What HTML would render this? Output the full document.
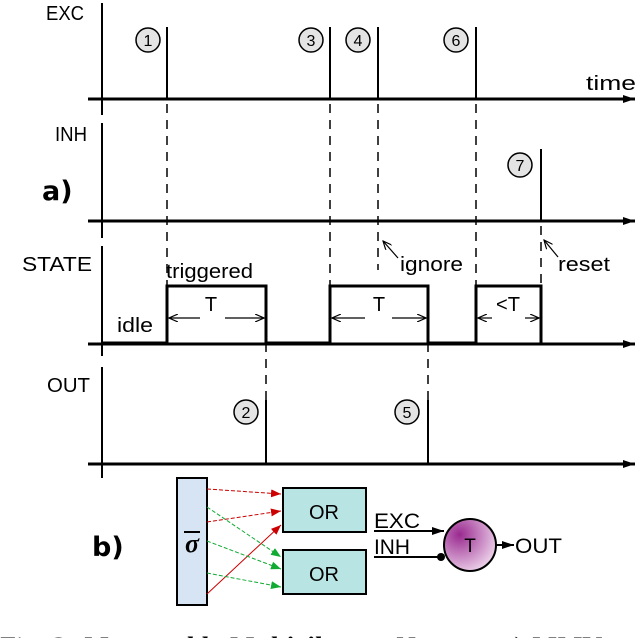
<!DOCTYPE html>
<html><head><style>body{margin:0;background:#fff}svg{display:block}</style></head><body>
<svg width="640" height="638" viewBox="0 0 640 638" font-family="Liberation Sans, sans-serif">
<defs>
<marker id="ah" markerWidth="12" markerHeight="8" refX="12" refY="4" orient="auto" markerUnits="userSpaceOnUse"><path d="M0,0L12,4L0,8z" fill="#000"/></marker>
<marker id="sa" markerWidth="10" markerHeight="8" refX="9" refY="4" orient="auto" markerUnits="userSpaceOnUse"><path d="M0,0L9,4L0,8" fill="none" stroke="#000" stroke-width="1.2"/></marker>
<marker id="ra" markerWidth="10" markerHeight="8" refX="10" refY="4" orient="auto" markerUnits="userSpaceOnUse"><path d="M0,0L10,4L0,8z" fill="#c00"/></marker>
<marker id="ga" markerWidth="10" markerHeight="8" refX="10" refY="4" orient="auto" markerUnits="userSpaceOnUse"><path d="M0,0L10,4L0,8z" fill="#1a3"/></marker>
<radialGradient id="tg" cx="0.3" cy="0.3" r="0.8"><stop offset="0" stop-color="#9a2a90"/><stop offset="1" stop-color="#f0d8ee"/></radialGradient>
</defs>
<g stroke="#000" stroke-width="2" fill="none">
<line x1="102" y1="3" x2="102" y2="115"/><line x1="102" y1="123" x2="102" y2="238"/>
<line x1="102" y1="246" x2="102" y2="356"/><line x1="102" y1="367" x2="102" y2="478"/>
<line x1="88" y1="99" x2="635" y2="99" marker-end="url(#ah)" stroke-width="3"/>
<line x1="88" y1="221" x2="635" y2="221" marker-end="url(#ah)" stroke-width="3"/>
<line x1="88" y1="344" x2="635" y2="344" marker-end="url(#ah)" stroke-width="3"/>
<line x1="88" y1="464" x2="635" y2="464" marker-end="url(#ah)" stroke-width="3"/>
<path d="M167,99V27M330,99V27M378,99V27M476,99V27M541,221V149M266,464V400M428,464V400"/>
<path d="M102,343H167V286H266V343H330V286H428V343H476V286H541V343" stroke-width="3"/>
</g>
<g stroke="#000" stroke-width="1.5" stroke-dasharray="9,7">
<path d="M167,104V343M330,104V286M378,104V270M476,104V286M541,226V286M266,343V400M428,343V400"/>
</g>
<g stroke="#000" stroke-width="1.2" fill="none">
<line x1="200" y1="318" x2="169" y2="318" marker-end="url(#sa)"/><line x1="225" y1="318" x2="264" y2="318" marker-end="url(#sa)"/>
<line x1="365" y1="318" x2="332" y2="318" marker-end="url(#sa)"/><line x1="392" y1="318" x2="426" y2="318" marker-end="url(#sa)"/>
<line x1="492" y1="318" x2="478" y2="318" marker-end="url(#sa)"/><line x1="525" y1="318" x2="539" y2="318" marker-end="url(#sa)"/>
<line x1="398" y1="258" x2="383" y2="241" marker-end="url(#sa)"/>
<line x1="558" y1="257" x2="544" y2="240" marker-end="url(#sa)"/>
</g>
<g fill="#e4e4e4" stroke="#000" stroke-width="1.5">
<circle cx="148" cy="40" r="12"/><circle cx="311" cy="40" r="12"/><circle cx="358" cy="40" r="12"/><circle cx="456" cy="40" r="12"/><circle cx="520" cy="165" r="12"/><circle cx="246" cy="412" r="12"/><circle cx="407" cy="412" r="12"/>
</g>
<g font-size="16" text-anchor="middle">
<text x="148" y="46">1</text><text x="311" y="46">3</text><text x="358" y="46">4</text><text x="456" y="46">6</text><text x="520" y="171">7</text><text x="246" y="418">2</text><text x="407" y="418">5</text>
</g>
<g font-size="20">
<text x="46" y="20" textLength="38" lengthAdjust="spacingAndGlyphs">EXC</text>
<text x="55" y="141" textLength="32" lengthAdjust="spacingAndGlyphs">INH</text>
<text x="22" y="271" textLength="70" lengthAdjust="spacingAndGlyphs">STATE</text>
<text x="47" y="392" textLength="43" lengthAdjust="spacingAndGlyphs">OUT</text>
<text x="586" y="90" textLength="50" lengthAdjust="spacingAndGlyphs">time</text>
<text x="166" y="278" textLength="87" lengthAdjust="spacingAndGlyphs">triggered</text>
<text x="117" y="332" textLength="36" lengthAdjust="spacingAndGlyphs">idle</text>
<text x="211" y="311" text-anchor="middle">T</text><text x="379" y="311" text-anchor="middle">T</text>
<text x="496" y="311" textLength="24" lengthAdjust="spacingAndGlyphs">&lt;T</text>
<text x="400" y="271" textLength="63" lengthAdjust="spacingAndGlyphs">ignore</text>
<text x="558" y="271" textLength="52" lengthAdjust="spacingAndGlyphs">reset</text>
</g>
<text x="42" y="200" font-size="27" font-weight="bold" font-family="DejaVu Sans, sans-serif">a)</text>
<text x="92" y="556" font-size="27" font-weight="bold" font-family="DejaVu Sans, sans-serif">b)</text>
<rect x="177" y="478" width="30" height="127" fill="#d6e4f4" stroke="#000" stroke-width="2"/>
<text x="192" y="552" font-size="26" font-weight="bold" font-style="italic" font-family="Liberation Serif, serif" text-anchor="middle">σ</text>
<line x1="184" y1="532" x2="200" y2="532" stroke="#000" stroke-width="2"/>
<rect x="283" y="488" width="83" height="44" fill="#b8e4e4" stroke="#000" stroke-width="2"/>
<rect x="283" y="550" width="83" height="44" fill="#b8e4e4" stroke="#000" stroke-width="2"/>
<text x="324" y="519" font-size="20" text-anchor="middle">OR</text><text x="324" y="581" font-size="20" text-anchor="middle">OR</text>
<g stroke-width="1" stroke-dasharray="4,2" fill="none">
<line x1="207" y1="489" x2="281" y2="494" stroke="#c00" marker-end="url(#ra)"/>
<line x1="207" y1="522" x2="281" y2="511" stroke="#c00" marker-end="url(#ra)"/>
<line x1="207" y1="594" x2="281" y2="525" stroke="#c00" stroke-dasharray="none" marker-end="url(#ra)"/>
<line x1="207" y1="507" x2="281" y2="557" stroke="#1a3" marker-end="url(#ga)"/>
<line x1="207" y1="541" x2="281" y2="569" stroke="#1a3" marker-end="url(#ga)"/>
<line x1="207" y1="573" x2="281" y2="587" stroke="#1a3" marker-end="url(#ga)"/>
</g>
<line x1="374" y1="531" x2="444" y2="531" stroke="#000" stroke-width="2" marker-end="url(#ah)"/>
<line x1="374" y1="557" x2="441" y2="557" stroke="#000" stroke-width="2"/>
<circle cx="441" cy="557" r="4" fill="#000"/>
<circle cx="470" cy="545" r="26" fill="url(#tg)" stroke="#000" stroke-width="2"/>
<text x="470" y="552" font-size="19" text-anchor="middle">T</text>
<line x1="496" y1="545" x2="514" y2="545" stroke="#000" stroke-width="2" marker-end="url(#ah)"/>
<g font-size="21"><text x="374" y="528" textLength="46" lengthAdjust="spacingAndGlyphs">EXC</text><text x="374" y="554" textLength="36" lengthAdjust="spacingAndGlyphs">INH</text><text x="515" y="553" textLength="47" lengthAdjust="spacingAndGlyphs">OUT</text></g>
<text x="0" y="655" font-size="26" font-family="Liberation Serif, serif" textLength="600" lengthAdjust="spacingAndGlyphs">Fig. 2: <tspan font-weight="bold" font-style="italic">Monostable Multivibrator Neuron. a) MMV</tspan></text>
</svg>
</body></html>
